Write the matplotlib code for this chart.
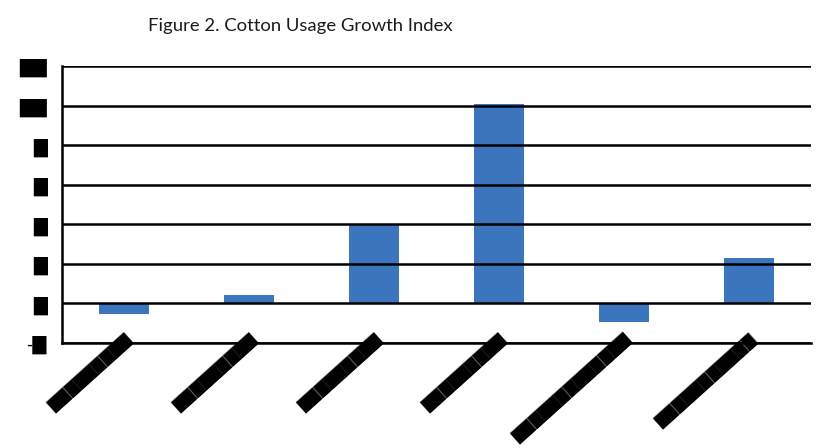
import numpy as np
import matplotlib.pyplot as plt

# categories (labels render as solid blocks in the reference)
categories = ["█████████", "█████████", "█████████", "█████████",
              "█████████████", "███████████"]
values = [-0.55, 0.45, 4.0, 10.1, -0.95, 2.3]
y_ticks = [-2, 0, 2, 4, 6, 8, 10, 12]
y_tick_labels = ["-█", "█", "█", "█", "█", "█", "██", "██"]

fig = plt.figure(figsize=(8.25, 4.48), dpi=100)
ax = fig.add_axes([62 / 825, 1 - 343 / 448, (811 - 62) / 825, (343 - 66) / 448])

x = np.arange(len(values))
ax.bar(x, values, width=0.4, color="#3b75bd", zorder=2)

ax.set_xlim(-0.5, len(values) - 0.5)
ax.set_ylim(-2, 12)
ax.set_yticks(y_ticks)
ax.set_yticklabels(y_tick_labels, fontsize=13, family="DejaVu Sans")
ax.yaxis.grid(True, color="black", linewidth=1.8, zorder=3)
ax.set_axisbelow(False)

ax.set_xticks(x)
ax.set_xticklabels(categories, rotation=42, ha="right", rotation_mode="anchor",
                   fontsize=11, family="DejaVu Sans")

for s in ["top", "right"]:
    ax.spines[s].set_visible(False)
ax.spines["left"].set_linewidth(1.8)
ax.spines["bottom"].set_linewidth(1.8)
ax.tick_params(axis="y", length=0, pad=11)
ax.tick_params(axis="x", length=0, pad=-8)

fig.text(148 / 825, 1 - 31 / 448, "Figure 2. Cotton Usage Growth Index",
         fontsize=13.3, family="Lato", color="#1a1a1a")

fig.savefig("out.png", dpi=100)
